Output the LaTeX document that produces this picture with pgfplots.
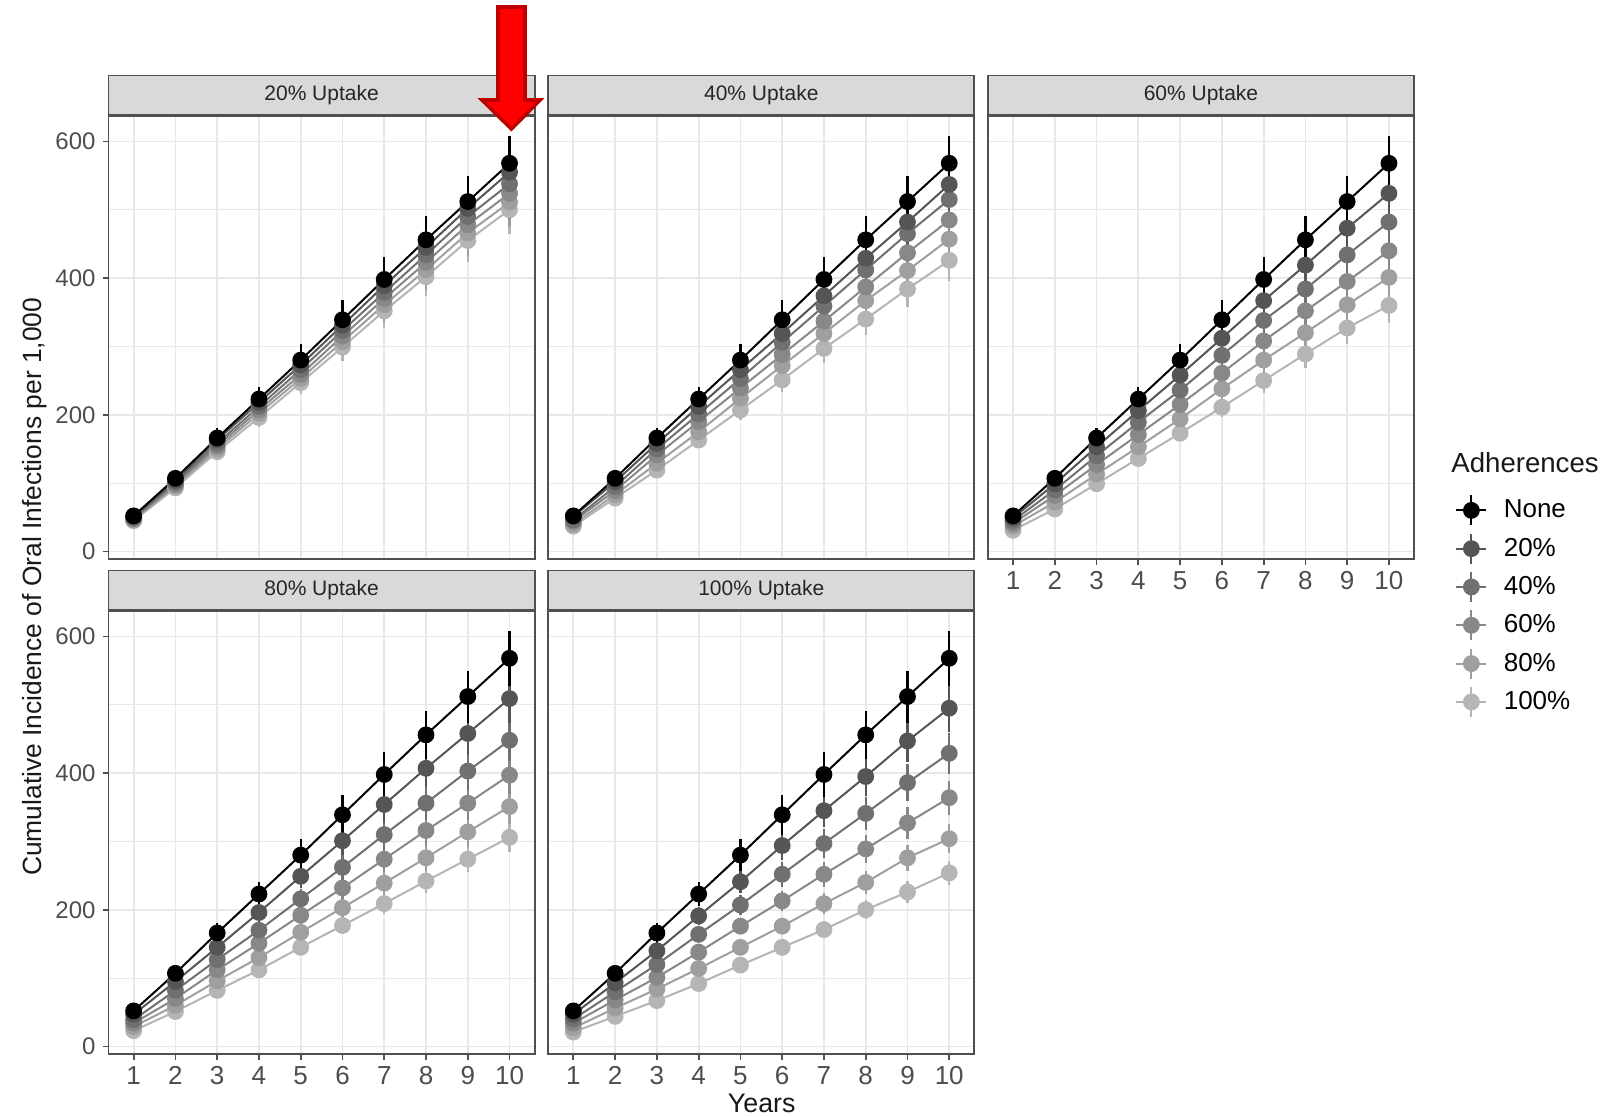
\documentclass[border=0pt]{standalone}
\usepackage{fontspec}
\setmainfont{Liberation Sans}
\usepackage{pgfplots}
\usepackage{pgfplotstable}
\pgfplotsset{compat=1.18}

\definecolor{c0}{HTML}{000000}
\definecolor{c1}{HTML}{555555}
\definecolor{c2}{HTML}{707070}
\definecolor{c3}{HTML}{888888}
\definecolor{c4}{HTML}{9F9F9F}
\definecolor{c5}{HTML}{B5B5B5}
\definecolor{gridc}{HTML}{E8E8E8}
\definecolor{stripc}{HTML}{D9D9D9}
\definecolor{framec}{HTML}{505050}
\definecolor{tickc}{HTML}{4D4D4D}
\definecolor{arrowfill}{HTML}{FF0000}
\definecolor{arrowdraw}{HTML}{C00000}

% columns: year, None, 20%, 40%, 60%, 80%, 100% adherence (value, error)
\pgfplotstableread{
x n en a ea b eb c ec d ed f ef
1 52 4 51 4 49 3 48 3 46 3 45 3
2 107 8 104 7 101 7 98 7 96 7 93 7
3 166 14 163 11 158 11 154 11 150 10 146 10
4 223 18 218 15 212 15 207 14 202 14 196 14
5 280 24 273 19 266 19 259 18 253 18 247 17
6 339 29 331 23 323 23 315 22 307 21 299 21
7 398 33 389 27 379 27 370 26 361 25 352 25
8 456 35 445 31 434 30 423 30 412 29 402 28
9 512 38 502 35 490 34 478 33 466 33 455 32
10 568 40 555 39 538 38 524 37 511 36 500 35
}\tA
\pgfplotstableread{
x n en a ea b eb c ec d ed f ef
1 52 4 51 4 46 3 44 3 40 3 37 3
2 107 8 102 7 95 7 89 6 83 6 78 5
3 166 14 158 11 150 11 141 10 129 9 119 8
4 223 18 212 15 201 14 190 13 175 12 163 11
5 280 24 266 19 253 18 239 17 224 16 207 14
6 339 29 319 22 306 21 288 20 272 19 251 18
7 398 33 374 26 359 25 337 24 319 22 297 21
8 456 35 429 30 412 29 387 27 367 26 340 24
9 512 38 482 34 465 33 437 31 411 29 384 27
10 568 40 537 38 515 36 485 34 457 32 426 30
}\tB
\pgfplotstableread{
x n en a ea b eb c ec d ed f ef
1 52 4 49 3 45 3 41 3 37 3 31 2
2 107 8 99 7 90 6 82 6 72 5 62 4
3 166 14 153 11 140 10 127 9 113 8 99 7
4 223 18 206 14 189 13 171 12 153 11 136 10
5 280 24 258 18 236 17 215 15 194 14 173 12
6 339 29 312 22 287 20 261 18 238 17 211 15
7 398 33 367 26 338 24 308 22 280 20 250 18
8 456 35 419 29 384 27 352 25 320 22 289 20
9 512 38 473 33 434 30 395 28 361 25 327 23
10 568 40 524 37 482 34 440 31 401 28 360 25
}\tC
\pgfplotstableread{
x n en a ea b eb c ec d ed f ef
1 52 4 47 3 39 3 34 2 29 2 23 2
2 107 8 95 7 82 6 70 5 60 4 51 4
3 166 14 145 10 127 9 112 8 96 7 82 6
4 223 18 196 14 170 12 151 11 130 9 112 8
5 280 24 249 17 216 15 192 13 167 12 145 10
6 339 29 301 21 262 18 232 16 203 14 177 12
7 398 33 354 25 310 22 274 19 239 17 209 15
8 456 35 407 28 356 25 316 22 276 19 242 17
9 512 38 458 32 403 28 356 25 314 22 274 19
10 568 40 509 36 448 31 397 28 351 25 306 21
}\tD
\pgfplotstableread{
x n en a ea b eb c ec d ed f ef
1 52 4 47 3 40 3 34 2 27 2 21 1
2 107 8 93 7 80 6 68 5 56 4 44 3
3 166 14 140 10 120 8 101 7 84 6 67 5
4 223 18 191 13 164 11 138 10 114 8 92 6
5 280 24 241 17 207 14 176 12 145 10 119 8
6 339 29 294 21 252 18 213 15 176 12 145 10
7 398 33 345 24 297 21 252 18 209 15 171 12
8 456 35 395 28 341 24 289 20 240 17 200 14
9 512 38 447 31 386 27 327 23 276 19 226 16
10 568 40 495 35 429 30 364 25 304 21 254 18
}\tE

\pgfplotsset{
  ser/.style={color=#1, line width=1pt, mark=*, mark size=3.7pt,
    mark options={fill=#1, draw=none},
    error bars/y dir=both, error bars/y explicit, error bars/error mark=none,
    error bars/error bar style={line width=1.1pt, color=#1}},
  legend image code/.code={
    \draw[#1, mark=none] (0pt,0pt) -- (15pt,0pt);
    \draw[#1, mark=none, line width=1.1pt] (7.5pt,-7.5pt) -- (7.5pt,7.5pt);
    \draw[#1] plot coordinates {(7.5pt,0pt)};
  },
  panel/.style={
    scale only axis, width=213pt, height=221.4pt, anchor=south west,
    xmin=0.4, xmax=10.6, ymin=-10.5, ymax=637.5,
    xtick={1,...,10}, ytick={0,200,400,600}, minor ytick={100,300,500},
    grid=both,
    major grid style={gridc, line width=0.9pt},
    minor grid style={gridc, line width=0.5pt},
    axis line style={framec, line width=0.9pt},
    tick align=outside, tick pos=left,
    major tick length=3pt, minor tick length=0pt,
    every tick/.append style={framec, line width=0.9pt},
    xticklabel style={font=\fontsize{13}{13}\selectfont, text=tickc},
    yticklabel style={font=\fontsize{12}{12}\selectfont, text=tickc},
    /pgf/number format/assume math mode=true,
    every axis title shift=0pt,
    title style={at={(0.5,1)}, anchor=south, draw=framec, line width=0.9pt,
      fill=stripc, minimum width=213pt, minimum height=19.7pt, inner sep=0pt,
      font=\fontsize{10.5}{10.5}\selectfont, text=black!85, yshift=0pt},
  },
  nox/.style={xticklabels={}, xtick style={draw=none}},
  noy/.style={yticklabels={}, ytick style={draw=none}},
}

\newcommand{\series}[1]{%
  \addplot[ser=c5] table[x=x, y=f, y error=ef]{#1};
  \addplot[ser=c4] table[x=x, y=d, y error=ed]{#1};
  \addplot[ser=c3] table[x=x, y=c, y error=ec]{#1};
  \addplot[ser=c2] table[x=x, y=b, y error=eb]{#1};
  \addplot[ser=c1] table[x=x, y=a, y error=ea]{#1};
  \addplot[ser=c0] table[x=x, y=n, y error=en]{#1};
}

\begin{document}
\begin{tikzpicture}
\useasboundingbox (0,0) rectangle (803.5pt,558pt);
\fill[white] (0,0) rectangle (803.5pt,558pt);
\clip (0,0) rectangle (803.5pt,558pt);

\begin{axis}[panel, nox, at={(54.3pt,278.7pt)}, title={20\% Uptake}]
\series{\tA}
\end{axis}

\begin{axis}[panel, nox, noy, at={(274.15pt,278.7pt)}, title={40\% Uptake}]
\series{\tB}
\end{axis}

\begin{axis}[panel, noy, at={(494pt,278.7pt)}, title={60\% Uptake},
  reverse legend, legend cell align=left,
  legend style={at={(1.0962,0.1462)}, anchor=north west, draw=none, fill=none,
    inner sep=0pt, row sep=3.05pt, column sep=8.2pt,
    font=\fontsize{13}{13}\selectfont, nodes={inner sep=0pt}}]
\series{\tC}
\legend{100\%,80\%,60\%,40\%,20\%,None}
\end{axis}

\begin{axis}[panel, at={(54.3pt,31.2pt)}, title={80\% Uptake}]
\series{\tD}
\end{axis}

\begin{axis}[panel, noy, at={(274.15pt,31.2pt)}, title={100\% Uptake}]
\series{\tE}
\end{axis}

\node[anchor=base west, font=\fontsize{13.8}{13.8}\selectfont, text=black!90, inner sep=0pt]
  at (725.5pt,321.65pt) {Adherences};

\node[anchor=base, rotate=90, font=\fontsize{13.2}{13.2}\selectfont, text=black!90, inner sep=0pt]
  at (20.85pt,264.6pt) {Cumulative Incidence of Oral Infections per 1,000};

\node[anchor=base, font=\fontsize{13.4}{13.4}\selectfont, text=black!90, inner sep=0pt]
  at (380.85pt,1.8pt) {Years};

\draw[fill=arrowfill, draw=arrowdraw, line width=1.8pt, line join=miter]
  (249pt,554.5pt) -- (262.5pt,554.5pt) -- (262.5pt,508pt) -- (270pt,508pt)
  -- (255.7pt,493.5pt) -- (241pt,508pt) -- (249pt,508pt) -- cycle;
\end{tikzpicture}
\end{document}
